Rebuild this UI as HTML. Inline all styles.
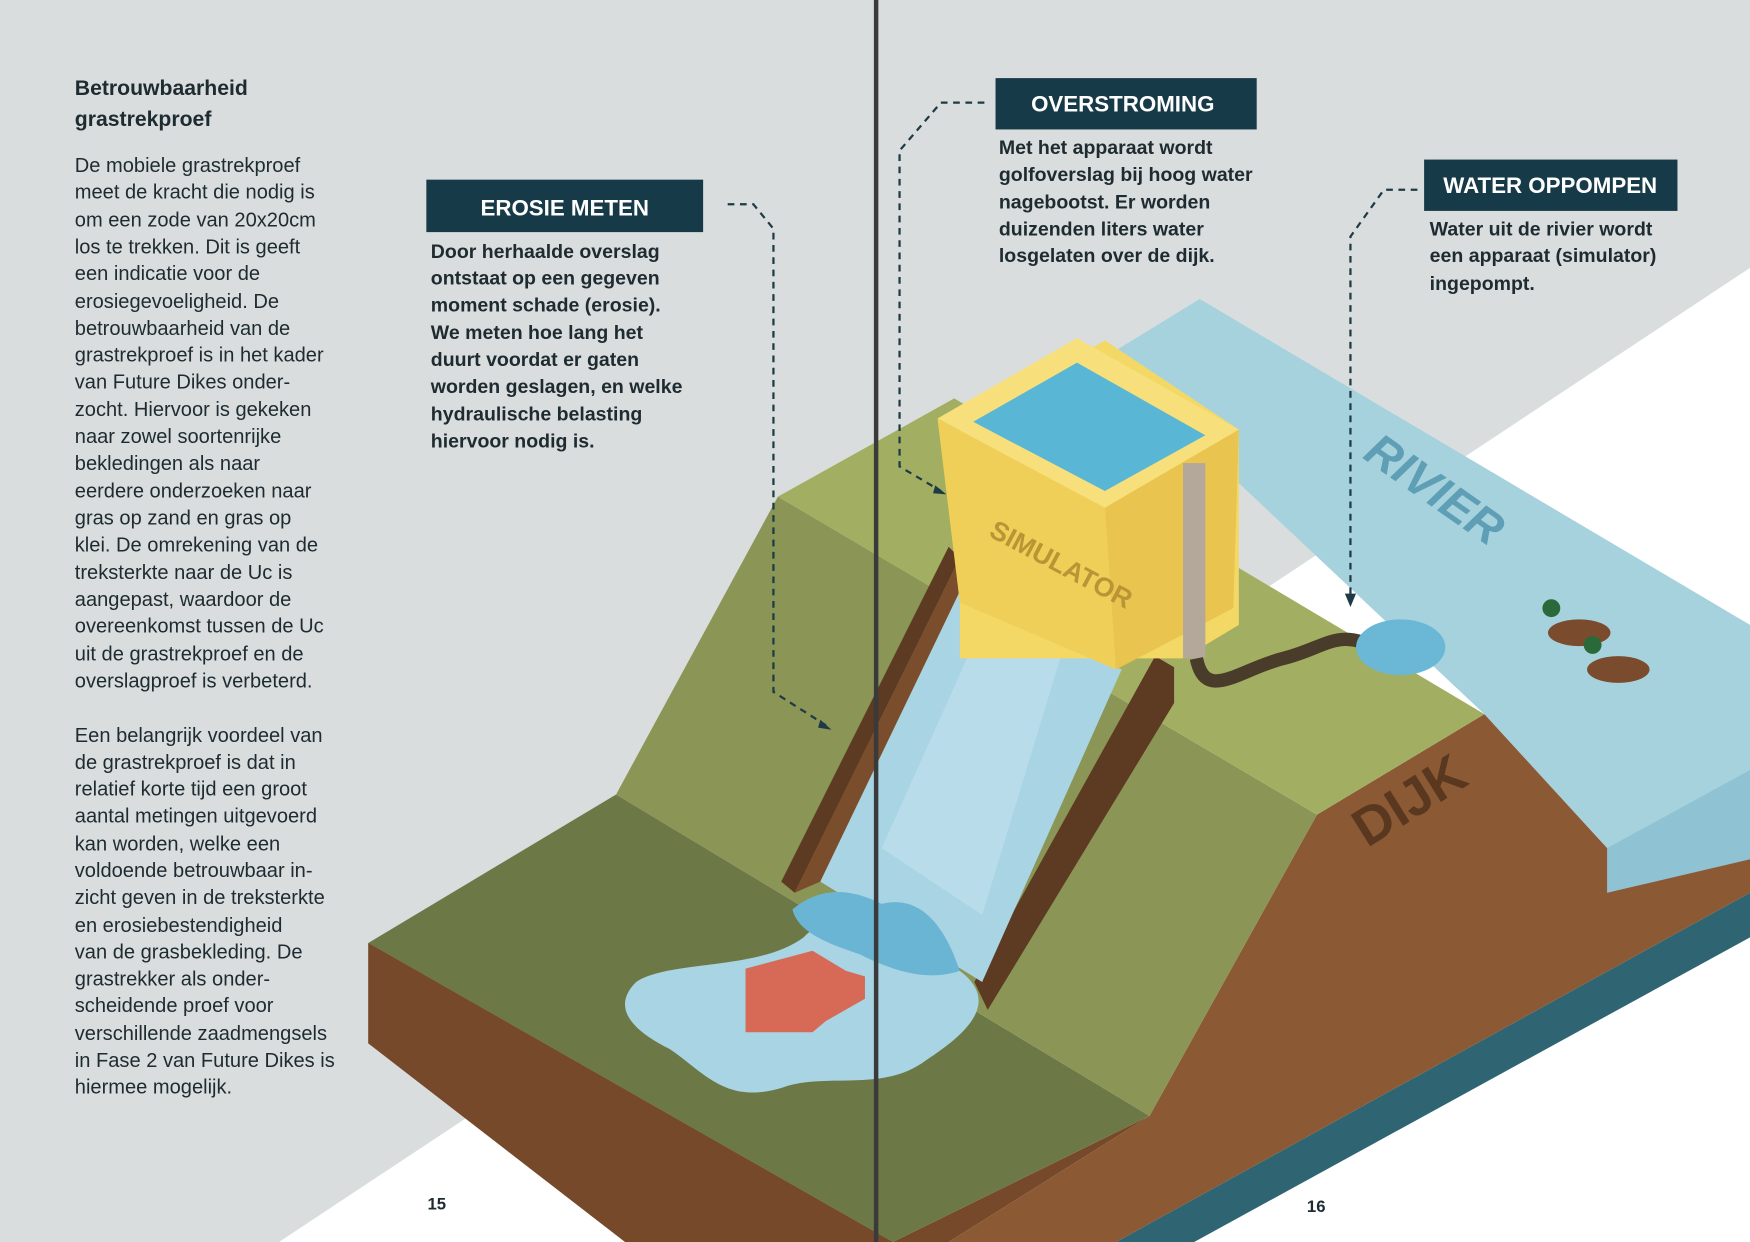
<!DOCTYPE html>
<html><head><meta charset="utf-8"><style>
html,body{margin:0;padding:0;background:#fff}
svg{display:block}
text{font-family:"Liberation Sans",sans-serif;fill:#1e2b31}
</style></head><body>
<svg width="1750" height="1242" viewBox="0 0 1568 1113" preserveAspectRatio="none" xmlns="http://www.w3.org/2000/svg">
<rect width="1568" height="1113" fill="#ffffff"/>
<polygon points="0,0 1568,0 1568,240 250,1113 0,1113" fill="#d9dddd"/>
<!-- bottom teal strip -->
<polygon points="1000,1113 1568,800 1568,840 1070,1113" fill="#2f6472"/>
<!-- river -->
<polygon points="990,320 1075,268 1568,560 1568,770 1440,800 1440,760 1330,640" fill="#a6d2de"/>
<polygon points="1440,760 1568,690 1568,770 1440,800" fill="#8fc2d2"/>
<!-- dike brown river side face -->
<polygon points="1180,730 1330,640 1440,760 1440,800 1568,770 1568,800 1000,1113 850,1113 1030,1000" fill="#8b5a35"/>
<!-- polder front brown -->
<polygon points="330,845 330,935 560,1113 850,1113 1030,1000 800,1113" fill="#76492a"/>
<polygon points="330,845 330,935 570,1113 800,1113" fill="#76492a"/>
<!-- polder top -->
<polygon points="330,845 552,712 1030,1000 800,1113" fill="#6d7847"/>
<!-- inner slope -->
<polygon points="552,712 697,445 1180,730 1030,1000" fill="#8a9556"/>
<!-- crest -->
<polygon points="697,445 855,357 1330,640 1180,730" fill="#a2af63"/>
<!-- chute rails -->
<polygon points="700,790 850,490 860,500 712,800" fill="#5d3a22"/>
<polygon points="873,880 1035,588 1052,598 1052,630 885,905" fill="#5d3a22"/>
<polygon points="712,800 860,500 860,530 735,790" fill="#7a4d2c"/>
<!-- chute water -->
<polygon points="735,790 860,530 1005,600 880,880" fill="#a9d4e4"/>
<polygon points="790,760 880,560 950,590 880,820" fill="#bfe0ec" opacity="0.7"/>
<!-- pool -->
<path d="M570,880 C600,860 680,870 720,840 C760,800 820,820 860,870 C900,900 860,930 830,950 C790,980 740,960 700,975 C650,990 630,960 600,940 C560,920 550,900 570,880Z" fill="#a9d4e4"/>
<path d="M710,815 C740,790 770,800 790,810 C830,800 850,840 860,870 C830,880 800,870 770,855 C740,845 715,835 710,815Z" fill="#6bb5d4"/>
<polygon points="668,868 728,852 758,870 775,875 775,895 740,915 728,925 668,925" fill="#d66a57"/>
<!-- simulator -->
<polygon points="860,380 990,305 1110,385 1110,560 1060,590 860,590" fill="#f4d865"/>
<polygon points="840,375 965,303 1110,385 990,455" fill="#f7e07b"/>
<polygon points="872,378 965,325 1080,390 990,440" fill="#5ab6d5"/>
<polygon points="840,375 990,455 1000,600 860,540" fill="#f0cf58"/>
<polygon points="990,455 1110,385 1105,545 1000,600" fill="#e9c44f"/>
<text x="885" y="480" transform="rotate(28 885 480)" font-size="24" font-weight="bold" style="fill:#b99535">SIMULATOR</text>
<rect x="1060" y="415" width="20" height="175" fill="#b3a89a"/>
<path d="M1072,590 C1080,630 1110,600 1150,590 C1190,580 1200,560 1240,585" stroke="#4a3c2a" stroke-width="12" fill="none"/>
<ellipse cx="1255" cy="580" rx="40" ry="25" fill="#6ab8d6"/>
<!-- ducks -->
<ellipse cx="1415" cy="567" rx="28" ry="12" fill="#7a4b2c"/><circle cx="1390" cy="545" r="8" fill="#2a6a3a"/>
<ellipse cx="1450" cy="600" rx="28" ry="12" fill="#7a4b2c"/><circle cx="1427" cy="578" r="8" fill="#2a6a3a"/>
<text x="1220" y="410" transform="rotate(35 1220 410)" font-size="42" font-weight="bold" font-style="italic" style="fill:#5f9fb6">RIVIER</text>
<text x="1225" y="760" transform="rotate(-32 1225 760)" font-size="48" font-weight="bold" style="fill:#5a3820">DIJK</text>
<!-- fold -->
<rect x="783" y="0" width="4" height="1113" fill="#3a3a3a"/>
<!-- dashed connectors -->
<g stroke="#1e3a45" stroke-width="2" stroke-dasharray="6,5" fill="none">
<path d="M652,183 L675,183 L693,205 L693,620 L740,650"/>
<path d="M882,92 L843,92 L806,135 L806,418 L843,440"/>
<path d="M1270,170 L1240,170 L1210,212 L1210,540"/>
</g>
<polygon points="735,645 745,654 733,652" fill="#1e3a45"/>
<polygon points="838,435 848,443 836,442" fill="#1e3a45"/>
<polygon points="1205,532 1215,532 1210,544" fill="#1e3a45"/>
<!-- boxes -->
<rect x="382" y="161" width="248" height="47" fill="#163a47"/>
<text x="506" y="193" text-anchor="middle" font-size="20" font-weight="bold" style="fill:#fff">EROSIE METEN</text>
<rect x="892" y="70" width="234" height="46" fill="#163a47"/>
<text x="1006" y="100" text-anchor="middle" font-size="20" font-weight="bold" style="fill:#fff">OVERSTROMING</text>
<rect x="1276" y="143" width="227" height="46" fill="#163a47"/>
<text x="1389" y="173" text-anchor="middle" font-size="20" font-weight="bold" style="fill:#fff">WATER OPPOMPEN</text>
<g font-size="17.5" font-weight="bold">
<text x="386" y="231">Door herhaalde overslag</text>
<text x="386" y="255">ontstaat op een gegeven</text>
<text x="386" y="279">moment schade (erosie).</text>
<text x="386" y="304">We meten hoe lang het</text>
<text x="386" y="328">duurt voordat er gaten</text>
<text x="386" y="352">worden geslagen, en welke</text>
<text x="386" y="377">hydraulische belasting</text>
<text x="386" y="401">hiervoor nodig is.</text>
<text x="895" y="138">Met het apparaat wordt</text>
<text x="895" y="162">golfoverslag bij hoog water</text>
<text x="895" y="187">nagebootst. Er worden</text>
<text x="895" y="211">duizenden liters water</text>
<text x="895" y="235">losgelaten over de dijk.</text>
<text x="1281" y="211">Water uit de rivier wordt</text>
<text x="1281" y="235">een apparaat (simulator)</text>
<text x="1281" y="260">ingepompt.</text>
</g>
<g font-size="19" font-weight="bold">
<text x="67" y="85">Betrouwbaarheid</text>
<text x="67" y="113">grastrekproef</text>
</g>
<g font-size="18">
<text x="67" y="154">De mobiele grastrekproef</text>
<text x="67" y="178">meet de kracht die nodig is</text>
<text x="67" y="203">om een zode van 20x20cm</text>
<text x="67" y="227">los te trekken. Dit is geeft</text>
<text x="67" y="251">een indicatie voor de</text>
<text x="67" y="276">erosiegevoeligheid. De</text>
<text x="67" y="300">betrouwbaarheid van de</text>
<text x="67" y="324">grastrekproef is in het kader</text>
<text x="67" y="348">van Future Dikes onder-</text>
<text x="67" y="373">zocht. Hiervoor is gekeken</text>
<text x="67" y="397">naar zowel soortenrijke</text>
<text x="67" y="421">bekledingen als naar</text>
<text x="67" y="446">eerdere onderzoeken naar</text>
<text x="67" y="470">gras op zand en gras op</text>
<text x="67" y="494">klei. De omrekening van de</text>
<text x="67" y="519">treksterkte naar de Uc is</text>
<text x="67" y="543">aangepast, waardoor de</text>
<text x="67" y="567">overeenkomst tussen de Uc</text>
<text x="67" y="592">uit de grastrekproef en de</text>
<text x="67" y="616">overslagproef is verbeterd.</text>
<text x="67" y="665">Een belangrijk voordeel van</text>
<text x="67" y="689">de grastrekproef is dat in</text>
<text x="67" y="713">relatief korte tijd een groot</text>
<text x="67" y="737">aantal metingen uitgevoerd</text>
<text x="67" y="762">kan worden, welke een</text>
<text x="67" y="786">voldoende betrouwbaar in-</text>
<text x="67" y="810">zicht geven in de treksterkte</text>
<text x="67" y="835">en erosiebestendigheid</text>
<text x="67" y="859">van de grasbekleding. De</text>
<text x="67" y="883">grastrekker als onder-</text>
<text x="67" y="907">scheidende proef voor</text>
<text x="67" y="932">verschillende zaadmengsels</text>
<text x="67" y="956">in Fase 2 van Future Dikes is</text>
<text x="67" y="980">hiermee mogelijk.</text>
</g>
<text x="383" y="1084" font-size="15" font-weight="bold">15</text>
<text x="1171" y="1086" font-size="15" font-weight="bold">16</text>
</svg>
</body></html>
